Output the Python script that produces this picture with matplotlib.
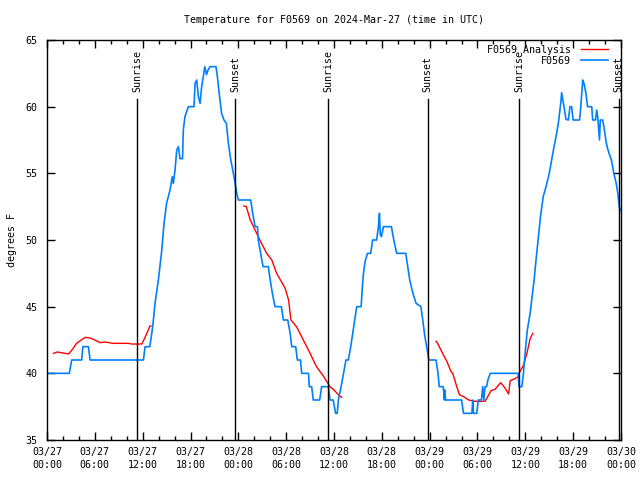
import numpy as np
import matplotlib
matplotlib.use("Agg")
from matplotlib import pyplot as plt
from matplotlib.ticker import MultipleLocator

# hours since 03/27 00:00 UTC, temps in deg F
obs_hours = [0.0, 2.8, 3.1, 4.35, 4.5, 5.2, 5.4, 12.1, 12.3, 12.9, 13.26, 13.55, 13.97, 14.4,
             14.68, 15.0, 15.43, 15.72, 15.85, 16.06, 16.27, 16.48, 16.68, 17.0, 17.1, 17.3,
             17.73, 18.44, 18.57, 18.78, 18.99, 19.2, 19.4, 19.8, 20.0, 20.2, 20.45, 21.2,
             21.37, 21.6, 21.9, 22.2, 22.5, 22.75, 23.05, 23.3, 23.6, 23.8, 24.0, 25.55,
             25.8, 26.1, 26.4, 26.5, 26.8, 27.1, 27.76, 28.0, 28.27, 28.6, 29.4, 29.65,
             30.2, 30.5, 30.7, 31.2, 31.4, 31.8, 31.95, 32.8, 32.9, 33.2, 33.4, 34.2,
             34.45, 35.3, 35.5, 35.9, 36.2, 36.4, 36.55, 36.97, 37.2, 37.5, 37.8, 38.1,
             38.35, 38.6, 38.85, 39.4, 39.56, 39.7, 39.9, 40.2, 40.6, 40.85, 41.35, 41.57,
             41.7, 41.8, 41.95, 42.2, 43.2, 43.5, 43.86, 45.0, 45.25, 45.5, 45.9, 46.3,
             46.9, 47.13, 47.4, 47.7, 47.9, 48.8, 49.05, 49.2, 49.7, 49.85, 49.9, 50.0,
             52.0, 52.25, 53.3, 53.4, 53.5, 53.9, 54.1, 54.5, 54.65, 54.8, 54.95, 55.15,
             55.3, 55.6, 59.1, 59.2, 59.56, 59.76, 59.97, 60.25, 60.6, 60.8, 61.1, 61.34,
             61.6, 61.9, 62.24, 62.6, 63.0, 63.3, 63.6, 63.85, 64.14, 64.44, 64.56, 64.7,
             64.85, 65.1, 65.4, 65.6, 65.8, 66.0, 66.8, 66.96, 67.2, 67.35, 67.6, 67.8,
             68.33, 68.45, 68.8, 68.95, 69.1, 69.3, 69.4, 69.7, 69.85, 70.1, 70.25, 70.5,
             70.8, 71.1, 71.4, 71.6, 71.8, 72.0]
obs_temps = [40, 40, 41, 41, 42, 42, 41, 41, 42, 42, 43.5, 45.25, 47, 49.25,
             51.25, 52.75, 53.75, 54.75, 54.25, 55.25, 56.75, 57, 56.1, 56.1, 58.25, 59.25,
             60, 60, 61.75, 62, 60.75, 60.25, 61.5, 63, 62.4, 62.75, 63, 63,
             62.25, 61, 59.5, 59, 58.75, 57.25, 56, 55.25, 54.25, 53.5, 53, 53,
             52, 51, 51, 50, 49, 48, 48, 47, 46, 45, 45, 44,
             44, 43, 42, 42, 41, 41, 40, 40, 39, 39, 38, 38,
             39, 39, 38, 38, 37, 37, 38, 39.25, 40, 41, 41, 42,
             43, 44, 45, 45, 46.5, 47.5, 48.4, 49, 49, 50, 50, 51,
             52, 50.4, 50.25, 51, 51, 50, 49, 49, 48, 47, 46, 45.25,
             45, 44, 42.75, 41.75, 41, 41, 40, 39, 39, 38, 38.75, 38,
             38, 37, 37, 38, 37, 37, 38, 38, 39, 38, 39, 39,
             39.5, 40, 40, 39, 39, 40, 41.5, 43.25, 44.5, 45.5, 47, 48.5,
             50, 51.75, 53.25, 54, 55, 56, 57, 57.75, 58.75, 60.25, 61.05, 60.5,
             60, 59.05, 59, 60, 60, 59, 59, 60, 62, 61.75, 61, 60,
             60, 59, 59, 59.75, 59.1, 57.5, 59, 59, 58.5, 57.5, 57, 56.5,
             56, 55, 54.25, 53.5, 52.4, 52.2]

ana1_hours = [0.8, 1.3, 1.8, 2.7, 3.2, 3.7, 4.3, 4.8, 5.4, 6.0, 6.65, 7.3, 8.3, 10.2, 10.6,
              11.9, 12.3, 12.6, 12.9, 13.05]
ana1_temps = [41.5, 41.6, 41.55, 41.45, 41.8, 42.25, 42.5, 42.7, 42.65, 42.5, 42.3, 42.35,
              42.25, 42.25, 42.2, 42.2, 42.7, 43.1, 43.55, 43.55]

ana2_hours = [24.7, 25.0, 25.5, 25.9, 26.7, 27.56, 28.2, 28.8, 29.86, 30.3, 30.6, 31.3,
              32.15, 33.0, 33.8, 34.66, 35.5, 36.0, 36.7, 36.97]
ana2_temps = [52.55, 52.5, 51.5, 51.0, 50.0, 49.0, 48.5, 47.5, 46.4, 45.5, 44.0, 43.5,
              42.5, 41.5, 40.5, 39.8, 39.0, 38.75, 38.3, 38.2]

ana3_hours = [48.8, 49.0, 49.7, 50.15, 50.7, 50.9, 51.4, 51.73, 52.25, 52.9, 53.7, 54.3,
              54.95, 55.7, 56.2, 56.9, 57.45, 57.9, 58.1, 58.7, 59.1, 59.2, 59.76, 60.2,
              60.6, 60.95]
ana3_temps = [42.4, 42.25, 41.4, 40.9, 40.1, 40.0, 39.0, 38.4, 38.25, 38.0, 37.9, 37.9,
              37.9, 38.7, 38.8, 39.3, 38.9, 38.45, 39.45, 39.6, 39.75, 40.0, 40.6, 41.5,
              42.6, 43.0]

sun_hours = [11.33, 23.63, 35.3, 47.75, 59.25, 71.72]
sun_labels = ["Sunrise", "Sunset", "Sunrise", "Sunset", "Sunrise", "Sunset"]

tick_labels = ["03/27\n00:00", "03/27\n06:00", "03/27\n12:00", "03/27\n18:00",
               "03/28\n00:00", "03/28\n06:00", "03/28\n12:00", "03/28\n18:00",
               "03/29\n00:00", "03/29\n06:00", "03/29\n12:00", "03/29\n18:00",
               "03/30\n00:00"]

plt.rcParams['font.family'] = ['DejaVu Sans Mono']
plt.rcParams['font.size'] = 7.2

fig = plt.figure(figsize=(6.4, 4.8), dpi=100)
ax = fig.add_axes([47/640, 40/480, 574/640, 400/480])

red = '#ff0000'
blue = '#0080ff'
ax.plot(ana1_hours, ana1_temps, color=red, lw=1.0, label='F0569 Analysis')
ax.plot(ana2_hours, ana2_temps, color=red, lw=1.0)
ax.plot(ana3_hours, ana3_temps, color=red, lw=1.0)
ax.plot(obs_hours, obs_temps, color=blue, lw=1.2, label='F0569')

for h, lab in zip(sun_hours, sun_labels):
    ax.axvline(h, ymin=0, ymax=0.852, color='black', lw=1.0)
    ax.text(h, 0.869, lab, transform=ax.get_xaxis_transform(), rotation=90,
            ha='center', va='bottom')

ax.set_xlim(0, 72)
ax.set_ylim(35, 65)
ax.set_xticks(np.arange(0, 73, 6))
ax.set_xticklabels(tick_labels, linespacing=1.4)
ax.xaxis.set_minor_locator(MultipleLocator(2))
ax.set_yticks(np.arange(35, 66, 5))
ax.tick_params(which='both', direction='in', top=True, right=True, width=1.0)
ax.tick_params(which='major', length=6)
ax.tick_params(which='minor', length=3)
ax.tick_params(axis='x', pad=5)
ax.tick_params(axis='y', pad=7)
ax.set_ylabel('degrees F', labelpad=6)
ax.set_title('Temperature for F0569 on 2024-Mar-27 (time in UTC)', fontsize=7.2, pad=12)

for s in ax.spines.values():
    s.set_linewidth(1.0)

ax.legend(loc='upper right', bbox_to_anchor=(0.978, 0.988), frameon=False,
          markerfirst=False, borderaxespad=0, borderpad=0, labelspacing=0.12,
          handlelength=2.7, handletextpad=1.0)

plt.savefig('out.png', dpi=100)
